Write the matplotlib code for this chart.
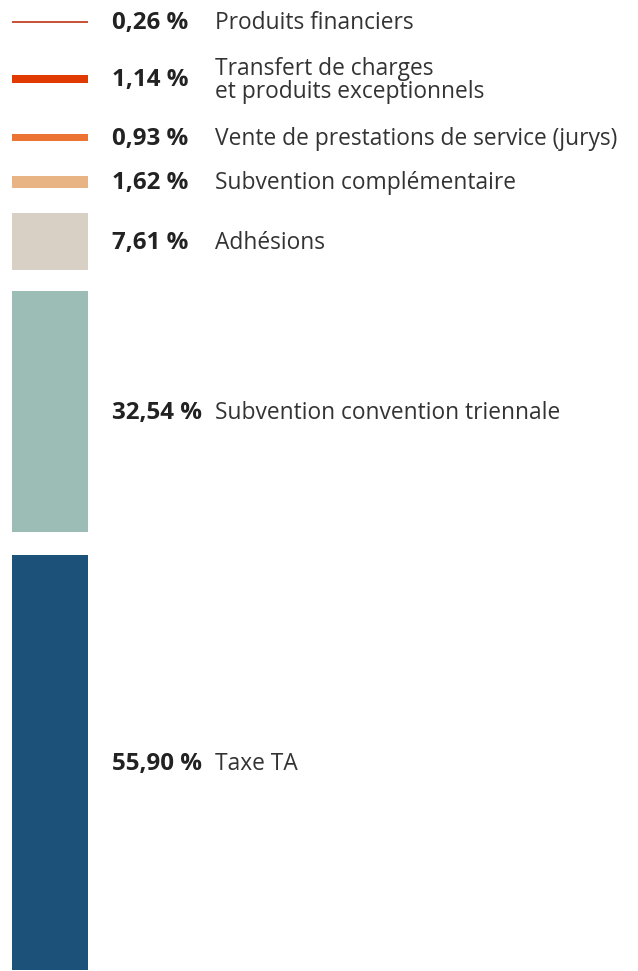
import matplotlib
matplotlib.use("Agg")
import matplotlib.pyplot as plt

# ---- data ----
categories = [
    "Produits financiers",
    "Transfert de charges\net produits exceptionnels",
    "Vente de prestations de service (jurys)",
    "Subvention complémentaire",
    "Adhésions",
    "Subvention convention triennale",
    "Taxe TA",
]
values = [0.26, 1.14, 0.93, 1.62, 7.61, 32.54, 55.90]
value_labels = ["0,26 %", "1,14 %", "0,93 %", "1,62 %", "7,61 %", "32,54 %", "55,90 %"]
colors = ["#c8553a", "#e03a00", "#ec7332", "#e8b484", "#d8cfc5", "#9bbdb5", "#1c527a"]

# ---- layout (pixels) ----
W, H = 638, 971
PX_PER_PCT = 7.42
gaps_px = [21, 52, 51, 35, 25, 21, 23]   # space above each segment
BAR_X0, BAR_X1 = 12, 88
PCT_X, LABEL_X = 112, 215

plt.rcParams['font.family'] = ['Open Sans', 'DejaVu Sans']

fig = plt.figure(figsize=(W / 100, H / 100), dpi=100)
ax = fig.add_axes([0, 0, 1, 1])
ax.set_xlim(0, W)
ax.set_ylim(H / PX_PER_PCT, 0)
ax.axis("off")

top = 0.0
for cat, v, vl, c, g in zip(categories, values, value_labels, colors, gaps_px):
    top += g / PX_PER_PCT
    ax.bar((BAR_X0 + BAR_X1) / 2, v, bottom=top, width=BAR_X1 - BAR_X0,
           color=c, linewidth=0)
    yc = top + v / 2 + 0.15
    ax.text(PCT_X, yc, vl, fontsize=17.4, fontweight="bold", color="#222222",
            ha="left", va="center")
    ax.text(LABEL_X, yc, cat, fontsize=16.4, color="#333333",
            ha="left", va="center", linespacing=0.92)
    top += v

fig.savefig("out.png", dpi=100)
